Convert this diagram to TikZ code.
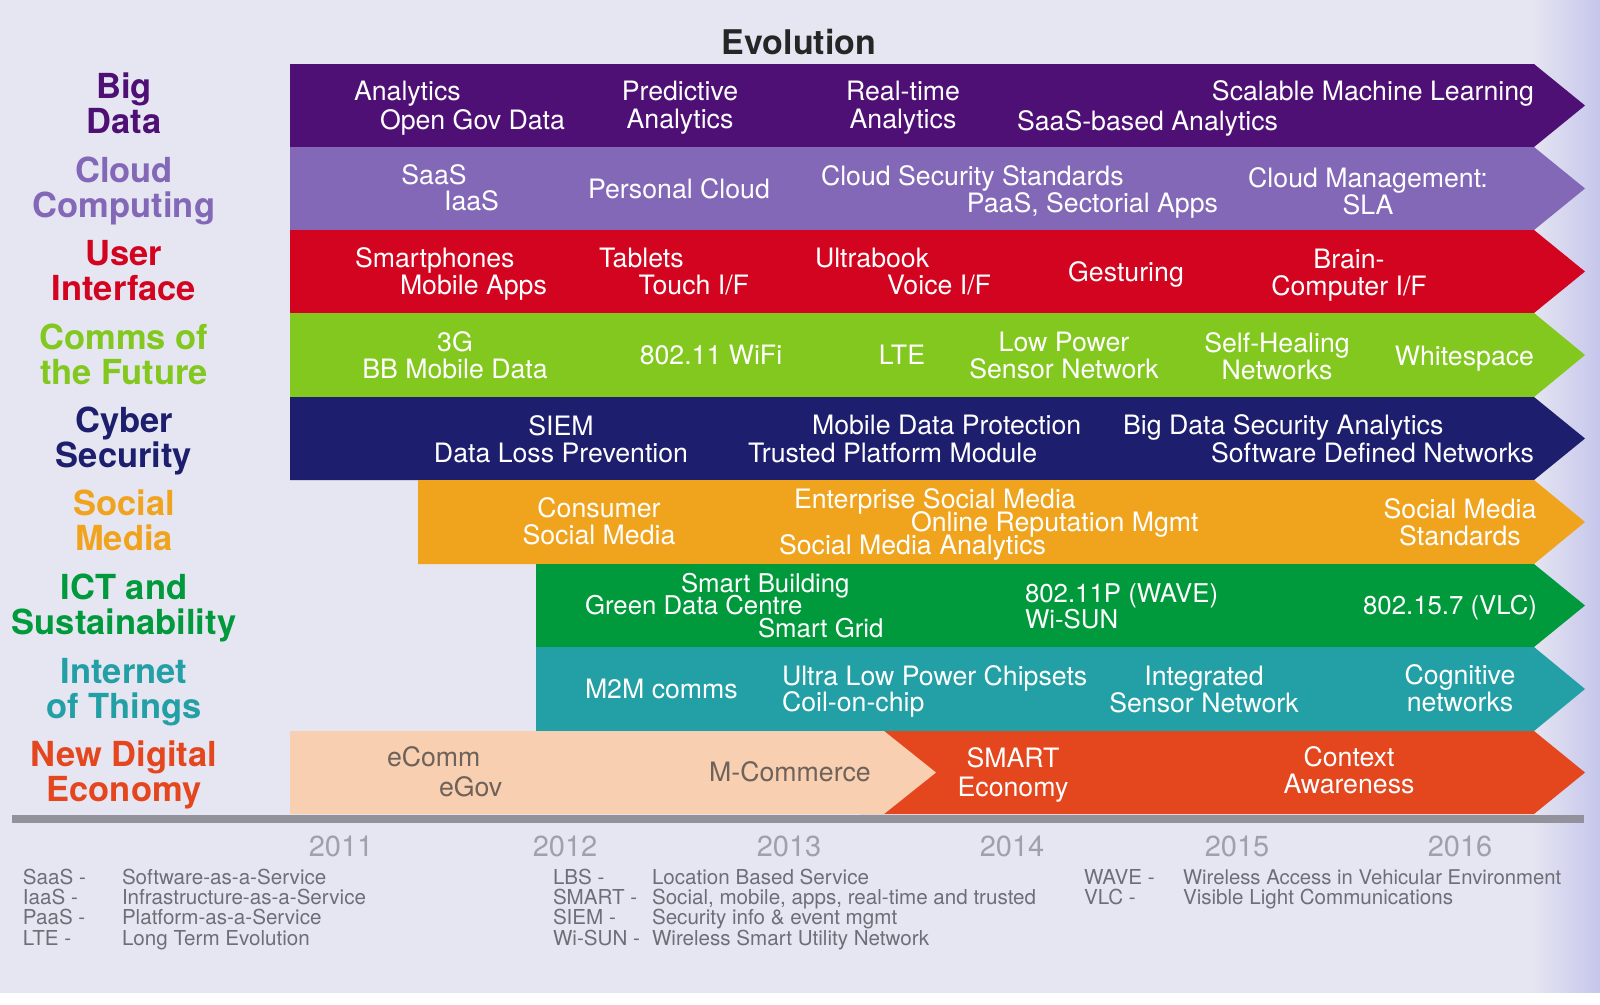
\documentclass[tikz,border=0pt]{standalone}
\usepackage{fontspec}
\usepackage{tikz}
\setmainfont{TeX Gyre Heros}

\definecolor{page_bg}{HTML}{E6E6F2}
\definecolor{page_edge}{HTML}{C6C6EC}
\definecolor{big_c}{HTML}{4F1075}
\definecolor{cloud_c}{HTML}{8468B8}
\definecolor{user_c}{HTML}{D2041F}
\definecolor{comms_c}{HTML}{82C81E}
\definecolor{cyber_c}{HTML}{1E1E6E}
\definecolor{social_c}{HTML}{F0A41E}
\definecolor{ict_c}{HTML}{009A3C}
\definecolor{iot_c}{HTML}{23A0A5}
\definecolor{econ_c}{HTML}{E4461E}
\definecolor{peach_c}{HTML}{F8CFB0}
\definecolor{axis_c}{HTML}{92929C}
\definecolor{year_c}{HTML}{A0A0AA}
\definecolor{note_c}{HTML}{6E6E78}
\definecolor{peach_t}{HTML}{6E625A}

\begin{document}
\begin{tikzpicture}[
		x=1pt, y=-1pt,
		every node/.style={inner sep=0pt, outer sep=0pt},
		band_t/.style={text=white, font=\fontsize{26.7}{27}\selectfont, align=center},
		band_s/.style={band_t, text height=19.2pt, text depth=0pt},
		band_i/.style={band_s, font=\fontsize{25.8}{27}\selectfont, text height=18.6pt},
		peach_n/.style={band_s, text=peach_t},
		side_t/.style={font=\fontsize{34.5}{35}\selectfont\bfseries, align=center},
		year_t/.style={text=year_c, font=\fontsize{29}{30}\selectfont, text height=20pt, text depth=0pt},
		note_t/.style={text=note_c, font=\fontsize{20.6}{21}\selectfont, anchor=west, text height=14.8pt, text depth=0pt}
	]
  % paper
  \useasboundingbox (0,0) rectangle (1600,1004);
  \fill [page_bg] (0,0) rectangle (1600,993);
  \fill [left color=page_bg, right color=page_edge] (1530,0) rectangle (1600,993);
  \fill [white] (0,993) rectangle (1600,1004);

  % bands
  \fill [big_c] (290,64) -- (1534,64) -- (1585,105.5) -- (1534,147) -- (290,147) -- cycle;
  \fill [cloud_c] (290,147) -- (1534,147) -- (1585,188.5) -- (1534,230) -- (290,230) -- cycle;
  \fill [user_c] (290,230) -- (1534,230) -- (1585,271.5) -- (1534,313) -- (290,313) -- cycle;
  \fill [comms_c] (290,313) -- (1534,313) -- (1585,355) -- (1534,397) -- (290,397) -- cycle;
  \fill [cyber_c] (290,397) -- (1534,397) -- (1585,438.5) -- (1534,480) -- (290,480) -- cycle;
  \fill [social_c] (418,480) -- (1534,480) -- (1585,522) -- (1534,564) -- (418,564) -- cycle;
  \fill [ict_c] (536,564) -- (1534,564) -- (1585,605.5) -- (1534,647) -- (536,647) -- cycle;
  \fill [iot_c] (536,647) -- (1534,647) -- (1585,689) -- (1534,731) -- (536,731) -- cycle;
  \fill [econ_c] (860,731) -- (1534,731) -- (1585,772.5) -- (1534,814) -- (860,814) -- cycle;
  \fill [peach_c] (290,731) -- (884,731) -- (936,772.5) -- (884,814) -- (290,814) -- cycle;
  \fill [axis_c] (12,815) rectangle (1584,823);

  \node (title) [font=\fontsize{34}{35}\selectfont\bfseries, text=black!85] at (799,42) {Evolution};

  % side labels
  \node (s_big) [side_t, text=big_c] at (124,103) {Big\\Data};
  \node (s_cloud) [side_t, text=cloud_c] at (124,191) {Cloud\\Computing};
  \node (s_user) [side_t, text=user_c] at (124,271) {User\\Interface};
  \node (s_comms) [side_t, text=comms_c] at (124,354) {Comms of\\the Future};
  \node (s_cyber) [side_t, text=cyber_c] at (124,441) {Cyber\\Security};
  \node (s_social) [side_t, text=social_c] at (124,520) {Social\\Media};
  \node (s_ict) [side_t, text=ict_c] at (124,608) {ICT and\\Sustainability};
  \node (s_iot) [side_t, text=iot_c] at (124,692) {Internet\\of Things};
  \node (s_econ) [side_t, text=econ_c] at (124,775) {New Digital\\Economy};

  % big data
  \node (b_1) [band_s, anchor=west] at (354,91) {Analytics};
  \node (b_2) [band_s, anchor=west] at (380,120) {Open Gov Data};
  \node (b_3) [band_t] at (680,108) {Predictive\\[1pt]Analytics};
  \node (b_4) [band_t] at (903,108) {Real-time\\[1pt]Analytics};
  \node (b_5) [band_s, anchor=east] at (1534,91) {Scalable Machine Learning};
  \node (b_6) [band_s, anchor=west] at (1017,121) {SaaS-based Analytics};

  % cloud
  \node (c_1) [band_s] at (434,175) {SaaS};
  \node (c_2) [band_s, anchor=east] at (499,201) {IaaS};
  \node (c_3) [band_s] at (679,189) {Personal Cloud};
  \node (c_4) [band_s, anchor=west] at (821,176) {Cloud Security Standards};
  \node (c_5) [band_s, anchor=east] at (1218,203) {PaaS, Sectorial Apps};
  \node (c_6) [band_t] at (1368,191) {Cloud Management:\\SLA};

  % user interface
  \node (u_1) [band_s, anchor=west] at (355,258) {Smartphones};
  \node (u_2) [band_s, anchor=west] at (400,285) {Mobile Apps};
  \node (u_3) [band_s, anchor=west] at (599,258) {Tablets};
  \node (u_4) [band_s, anchor=east] at (749,285) {Touch I/F};
  \node (u_5) [band_s, anchor=west] at (815,258) {Ultrabook};
  \node (u_6) [band_s, anchor=east] at (991,285) {Voice I/F};
  \node (u_7) [band_s] at (1126,272) {Gesturing};
  \node (u_8) [band_t] at (1349,275) {Brain-\\Computer I/F};

  % comms
  \node (f_1) [band_t] at (455,355) {3G\\BB Mobile Data};
  \node (f_2) [band_s] at (711,355) {802.11 WiFi};
  \node (f_3) [band_s] at (902,355) {LTE};
  \node (f_4) [band_t] at (1064,356) {Low Power\\Sensor Network};
  \node (f_5) [band_t] at (1277,356) {Self-Healing\\Networks};
  \node (f_6) [band_s, anchor=east] at (1534,356) {Whitespace};

  % cyber security
  \node (y_1) [band_t] at (561,439) {SIEM\\Data Loss Prevention};
  \node (y_2) [band_s, anchor=west] at (812,425) {Mobile Data Protection};
  \node (y_3) [band_s, anchor=west] at (748,453) {Trusted Platform Module};
  \node (y_4) [band_s, anchor=west] at (1123,425) {Big Data Security Analytics};
  \node (y_5) [band_s, anchor=east] at (1534,453) {Software Defined Networks};

  % social media
  \node (m_1) [band_t] at (599,521) {Consumer\\Social Media};
  \node (m_2) [band_s, anchor=west] at (794,499) {Enterprise Social Media};
  \node (m_3) [band_s, anchor=west] at (911,522) {Online Reputation Mgmt};
  \node (m_4) [band_s, anchor=west] at (779,545) {Social Media Analytics};
  \node (m_5) [band_t] at (1460,522) {Social Media\\Standards};

  % ict
  \node (i_1) [band_i, anchor=west] at (681,583) {Smart Building};
  \node (i_2) [band_i, anchor=west] at (585,605) {Green Data Centre};
  \node (i_3) [band_i, anchor=west] at (758,628) {Smart Grid};
  \node (i_4) [band_i, anchor=west] at (1025,593) {802.11P (WAVE)};
  \node (i_5) [band_i, anchor=west] at (1025,619) {Wi-SUN};
  \node (i_6) [band_i] at (1450,605) {802.15.7 (VLC)};

  % internet of things
  \node (t_1) [band_s, anchor=west] at (585,689) {M2M comms};
  \node (t_2) [band_s, anchor=west] at (782,676) {Ultra Low Power Chipsets};
  \node (t_3) [band_s, anchor=west] at (782,702) {Coil-on-chip};
  \node (t_4) [band_t] at (1204,689) {Integrated\\Sensor Network};
  \node (t_5) [band_t] at (1460,688) {Cognitive\\networks};

  % digital economy
  \node (e_1) [peach_n, anchor=west] at (387,757) {eComm};
  \node (e_2) [peach_n, anchor=west] at (439,787) {eGov};
  \node (e_3) [peach_n] at (790,772) {M-Commerce};
  \node (e_4) [band_t] at (1013,775) {SMART\\[2pt]Economy};
  \node (e_5) [band_t] at (1349,770) {Context\\Awareness};

  % years
  \node (y_2011) [year_t] at (341,846) {2011};
  \node (y_2012) [year_t] at (565,846) {2012};
  \node (y_2013) [year_t] at (789,846) {2013};
  \node (y_2014) [year_t] at (1012,846) {2014};
  \node (y_2015) [year_t] at (1237,846) {2015};
  \node (y_2016) [year_t] at (1460,846) {2016};

  % glossary
  \node (k_1) [note_t] at (23,877) {SaaS -};
  \node (k_2) [note_t] at (23,897) {IaaS -};
  \node (k_3) [note_t] at (23,917) {PaaS -};
  \node (k_4) [note_t] at (23,938) {LTE -};
  \node (d_1) [note_t] at (122,877) {Software-as-a-Service};
  \node (d_2) [note_t] at (122,897) {Infrastructure-as-a-Service};
  \node (d_3) [note_t] at (122,917) {Platform-as-a-Service};
  \node (d_4) [note_t] at (122,938) {Long Term Evolution};
  \node (k_5) [note_t] at (553,877) {LBS -};
  \node (k_6) [note_t] at (553,897) {SMART -};
  \node (k_7) [note_t] at (553,917) {SIEM -};
  \node (k_8) [note_t] at (553,938) {Wi-SUN -};
  \node (d_5) [note_t] at (652,877) {Location Based Service};
  \node (d_6) [note_t] at (652,897) {Social, mobile, apps, real-time and trusted};
  \node (d_7) [note_t] at (652,917) {Security info \& event mgmt};
  \node (d_8) [note_t] at (652,938) {Wireless Smart Utility Network};
  \node (k_9) [note_t] at (1084,877) {WAVE -};
  \node (k_10) [note_t] at (1084,897) {VLC -};
  \node (d_9) [note_t, font=\fontsize{20.3}{21}\selectfont] at (1183,877) {Wireless Access in Vehicular Environment};
  \node (d_10) [note_t] at (1183,897) {Visible Light Communications};
\end{tikzpicture}
\end{document}
